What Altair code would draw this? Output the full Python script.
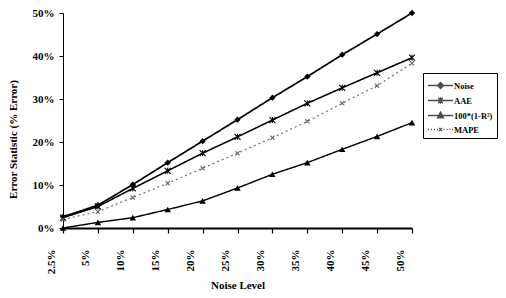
import altair as alt
import pandas as pd

levels = ["2.5%", "5%", "10%", "15%", "20%", "25%", "30%", "35%", "40%", "45%", "50%"]
series_names = ["Noise", "AAE", "100*(1-R²)", "MAPE"]
noise = [2.6, 5.3, 10.1, 15.2, 20.2, 25.2, 30.3, 35.2, 40.3, 45.1, 50.0]
aae = [2.4, 5.0, 9.2, 13.3, 17.4, 21.2, 25.1, 29.0, 32.6, 36.1, 39.6]
r2 = [0.0, 1.3, 2.4, 4.3, 6.3, 9.3, 12.5, 15.2, 18.3, 21.3, 24.5]
mape = [2.0, 3.8, 7.1, 10.4, 13.9, 17.4, 21.0, 24.8, 29.0, 33.1, 38.3]

rows = []
for name, vals in zip(series_names, [noise, aae, r2, mape]):
    for lv, v in zip(levels, vals):
        rows.append({"level": lv, "series": name, "value": v})
df = pd.DataFrame(rows)

FONT = "Liberation Serif"

x_enc = alt.X("level:N", sort=levels,
              scale=alt.Scale(type="point", padding=0),
              axis=alt.Axis(title="Noise Level", labelAngle=270, labelOffset=-12,
                            labelPadding=16, tickSize=5, titlePadding=6,
                            domainWidth=2, tickWidth=1.2))
y_enc = alt.Y("value:Q", scale=alt.Scale(domain=[0, 50], nice=False),
              axis=alt.Axis(title="Error Statistic (% Error)", values=[0, 10, 20, 30, 40, 50],
                            labelExpr="datum.value + '%'", tickSize=4, labelPadding=5,
                            grid=False, titleX=-45, titleY=126))

color_scale = alt.Scale(domain=series_names, range=["black", "black", "black", "#777777"])

lines = alt.Chart(df).mark_line().encode(
    x=x_enc, y=y_enc,
    color=alt.Color("series:N", scale=color_scale, legend=None),
    strokeDash=alt.StrokeDash("series:N", scale=alt.Scale(domain=series_names,
                              range=[[1, 0], [1, 0], [1, 0], [2, 3]]), legend=None),
    strokeWidth=alt.StrokeWidth("series:N", scale=alt.Scale(domain=series_names,
                                range=[1.7, 1.3, 1.3, 1.5]), legend=None),
)

marker_specs = [
    ("Noise", "diamond", True, "black", 40),
    ("AAE", "M-1,-1L1,1M-1,1L1,-1M0,-1L0,1", False, "black", 36),
    ("100*(1-R²)", "triangle-up", True, "black", 42),
    ("MAPE", "M-1,-1L1,1M-1,1L1,-1", False, "#666666", 18),
]
marker_layers = []
for name, shp, filled, col, sz in marker_specs:
    marker_layers.append(
        alt.Chart(df).transform_filter(alt.datum.series == name).mark_point(
            shape=shp, filled=filled, color=col, size=sz, strokeWidth=1.1, opacity=1
        ).encode(x=alt.X("level:N", sort=levels), y="value:Q")
    )

legend_paths = [
    "M-1,0L2.33,0M0.67,-0.4L1.07,0L0.67,0.4L0.27,0Z",
    "M-1,0L2.33,0M0.37,-0.37L0.97,0.37M0.37,0.37L0.97,-0.37M0.67,-0.42L0.67,0.42",
    "M-1,0L2.33,0M0.67,-0.45L1.07,0.3L0.27,0.3Z",
    "M-1,0L-0.87,0M-0.6,0L-0.47,0M-0.2,0L-0.07,0M0.2,0L0.33,0M0.47,-0.2L0.87,0.2M0.47,0.2L0.87,-0.2M1.07,0L1.2,0M1.47,0L1.6,0M1.87,0L2,0M2.2,0L2.33,0",
]

leg = alt.Legend(title=None, orient="none", legendX=360, legendY=60,
                 symbolSize=225, symbolStrokeWidth=1.3,
                 labelFont=FONT, labelFontSize=8.5, labelFontWeight="bold",
                 labelOffset=10, rowPadding=0, padding=4,
                 strokeColor="black", fillColor="white")

legend_layer = alt.Chart(df).transform_filter("false").mark_point(
    filled=True, fill="black", stroke="black", strokeWidth=1.3, size=225
).encode(
    x=alt.X("level:N", sort=levels),
    y="value:Q",
    shape=alt.Shape("series:N", scale=alt.Scale(domain=series_names, range=legend_paths), legend=leg),
)

chart = alt.layer(lines, *marker_layers, legend_layer).resolve_scale(
    shape="independent"
).properties(
    width=349, height=215,
    autosize=alt.AutoSizeParams(type="none"),
    padding={"left": 55, "top": 5, "right": 86, "bottom": 62},
).configure_view(stroke=None).configure_axis(
    labelFont=FONT, titleFont=FONT, labelFontSize=11, titleFontSize=11,
    labelFontWeight="bold", titleFontWeight="bold", labelColor="black", titleColor="black",
    domainColor="black", tickColor="black", grid=False,
)

chart.save("out.html", embed_options={"renderer": "svg", "actions": False})
